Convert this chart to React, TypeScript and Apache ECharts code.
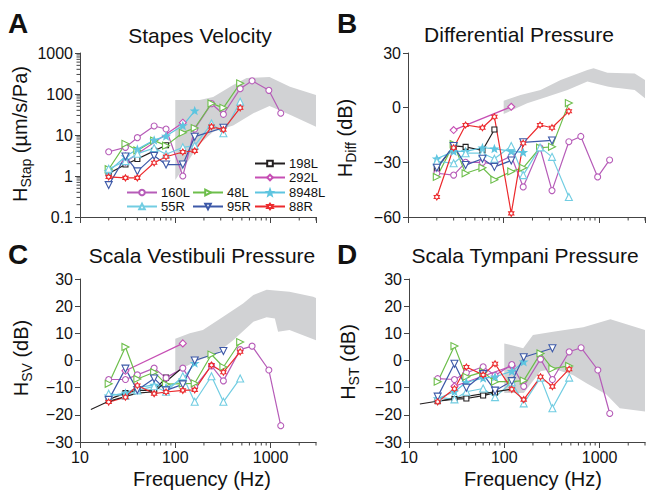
import React, { useEffect, useRef } from 'react';
import * as echarts from 'echarts';

// ---------- frequencies (Hz) per specimen ----------
const F_198L = [20, 30, 40, 60, 80];
const F_292L = [30, 120];
const F_160L = [20, 30, 40, 60, 80, 120, 160, 240, 320, 480, 640, 960, 1280];
const F_48L = [20, 30, 40, 60, 80, 120, 160, 240, 320, 480];
const F_8948L = [20, 30, 40, 60, 80, 120, 160];
const F_55R = [20, 30, 40, 60, 80, 120, 160, 240, 320, 480];
const F_95R = [20, 30, 40, 60, 80, 120, 160, 320];
const F_88R = [20, 30, 40, 60, 80, 120, 160, 240, 320, 480];

// ---------- A: Stapes velocity (um/s/Pa) ----------
const A_198L = [1.15, 1.9, 2.6, 4.1, 5.6];
const A_292L = [2.2, 20];
const A_160L = [3.9, 5.0, 8.6, 16.6, 14, 1.0, 14, 58, 32, 135, 210, 123, 34];
const A_48L = [1.46, 6.1, 4.2, 7.3, 5.5, 11.4, 14.8, 59, 46, 182];
const A_8948L = [1.3, 3.0, 4.5, 7.5, 9.4, 17, 39];
const A_55R = [1.5, 2.3, 3.5, 4.8, 3.4, 5, 5.5, 19, 11, 65];
const A_95R = [0.6, 3.0, 1.3, 3.1, 1.9, 1.9, 9.1, 15];
const A_88R = [0.95, 0.9, 0.9, 2.1, 2.95, 3.85, 4.1, 16, 13.5, 46];

// ---------- B: Differential pressure (dB) ----------
const B_198L = [-33.5, -21, -21.5, -23.5, -12];
const B_292L = [-12.3, 0.5];
const B_160L = [-36, -37, -30, -30, -31, -26.5, -43.5, -22, -45.5, -18.7, -15.8, -38, -28.7];
const B_48L = [-38, -20, -36, -33, -39.5, -35, -33, -22, -21.5, 2.5];
const B_8948L = [-28, -24, -24, -22, -22.5, -24, -24.5];
const B_55R = [-29.5, -30.5, -25, -25, -28, -21, -37, -21.8, -27, -49];
const B_95R = [-33, -21, -31.5, -28, -32.5, -29, -19, -18];
const B_88R = [-49, -22, -9.5, -11, -5, -58, -19.5, -9.5, -11, -2];

// ---------- C: Scala vestibuli pressure (dB) ----------
const C_198L = [-14.3, -12, -11, -11, -6.3];
const C_292L = [-3.8, 6.3];
const C_160L = [-7, -7, -5.3, -2.8, -6.4, -2.8, -9.8, -2, -7.5, 4, 5.3, -3.5, -24];
const C_48L = [-8.6, 5, -6.8, -4.3, -8.7, -8.5, -8.4, 2.2, -2.4, 6.8];
const C_8948L = [-13, -12, -10, -9, -10, -7, -1];
const C_55R = [-12.2, -13, -11, -9.5, -11.5, -5.8, -15.2, -5.8, -15.2, -6.6];
const C_95R = [-14.5, -3, -10.9, -6.6, -11, -8.8, 0, 3.5];
const C_88R = [-15.3, -13.5, -9.2, -12.2, -11.6, -11, -10.8, -1.7, -4.3, 3.2];
const C_FIT_F = [13, 20, 40, 60, 120];
const C_FIT_V = [-18, -15, -12, -11.5, -2.5];

// ---------- D: Scala tympani pressure (dB) ----------
const D_198L = [-15, -14.2, -14, -12.9, -11.8];
const D_292L = [-9.5, -2];
const D_160L = [-6.7, -7, -4.5, -2.3, -5.5, -1.5, -9.5, 0.5, -7, 3.2, 4.7, -3.5, -19.5];
const D_48L = [-7.8, 5.3, -6, -4.2, -7.8, -7.8, -7.4, 2.6, -3, -2];
const D_8948L = [-14, -11.5, -8, -6.5, -6, -4, -0.5];
const D_55R = [-13.5, -14.3, -11.5, -10.3, -13.5, -8, -15.8, -6.3, -17.6, -6.3];
const D_95R = [-13.3, -1.2, -10, -5, -11.1, -7.6, 1.2, 4.5];
const D_88R = [-15.2, -10.4, -2.4, -5.3, -1.2, -10.6, -14.4, -6, -9.6, -3.2];
const D_FIT_F = [13, 120];
const D_FIT_V = [-16, -10.5];

// ---------- gray reference bands (upper and lower edges) ----------
const A_BAND_UP_F = [100, 180, 250, 405, 560, 975, 1600, 3000];
const A_BAND_UP_V = [71, 71, 85, 165, 245, 260, 150, 95];
const A_BAND_LO_F = [100, 180, 250, 405, 660, 975, 1600, 3000];
const A_BAND_LO_V = [0.8, 6, 12, 17, 34, 51, 31, 16];
const B_BAND_UP_F = [100, 150, 243, 394, 750, 870, 1215, 2340, 3000];
const B_BAND_UP_V = [3.8, 6.9, 9.7, 15.2, 20.7, 21.6, 19.2, 18.8, 15.2];
const B_BAND_LO_F = [100, 176, 285, 465, 750, 1215, 1400, 1660, 2340, 3000];
const B_BAND_LO_V = [-3.5, 2.4, 6, 9.7, 14.3, 11.6, 11, 10.6, 9.7, 5.1];
const C_BAND_UP_F = [100, 142, 195, 318, 515, 660, 910, 1580, 2800, 3000];
const C_BAND_UP_V = [8, 10, 11.2, 16.1, 21, 24.1, 26, 25.3, 23.5, 23];
const C_BAND_LO_F = [100, 180, 270, 405, 660, 910, 1110, 1200, 1580, 3000];
const C_BAND_LO_V = [-4, 0.2, 2.6, 7.5, 14.3, 15.9, 15.5, 10.6, 11.2, 7.5];
const D_BAND_UP_F = [100, 158, 200, 325, 675, 1300, 3000];
const D_BAND_UP_V = [6.3, 4.5, 9.4, 10.6, 12.2, 15.2, 11.2];
const D_BAND_LO_F = [100, 160, 240, 330, 525, 730, 1180, 1630, 3000];
const D_BAND_LO_V = [-12, -12, -4, -3, -5.3, -8.4, -12.5, -17.6, -18.8];

// ---------- axis tick values ----------
const X_MINOR = [20, 30, 40, 50, 60, 70, 80, 90, 200, 300, 400, 500, 600, 700, 800, 900, 2000, 3000];
const Y_MINOR_A = [0.2, 0.3, 0.4, 0.5, 0.6, 0.7, 0.8, 0.9, 2, 3, 4, 5, 6, 7, 8, 9, 20, 30, 40, 50, 60, 70, 80, 90, 200, 300, 400, 500, 600, 700, 800, 900];

const TITLES = ['Stapes Velocity', 'Differential Pressure', 'Scala Vestibuli Pressure', 'Scala Tympani Pressure'];
const LETTERS = ['A', 'B', 'C', 'D'];
const NAMES = ['198L', '292L', '160L', '48L', '8948L', '55R', '95R', '88R'];

const FREQS: Record<string, number[]> = {
  '198L': F_198L, '292L': F_292L, '160L': F_160L, '48L': F_48L,
  '8948L': F_8948L, '55R': F_55R, '95R': F_95R, '88R': F_88R,
};
const PANEL_DATA: Record<string, number[]>[] = [
  { '198L': A_198L, '292L': A_292L, '160L': A_160L, '48L': A_48L, '8948L': A_8948L, '55R': A_55R, '95R': A_95R, '88R': A_88R },
  { '198L': B_198L, '292L': B_292L, '160L': B_160L, '48L': B_48L, '8948L': B_8948L, '55R': B_55R, '95R': B_95R, '88R': B_88R },
  { '198L': C_198L, '292L': C_292L, '160L': C_160L, '48L': C_48L, '8948L': C_8948L, '55R': C_55R, '95R': C_95R, '88R': C_88R },
  { '198L': D_198L, '292L': D_292L, '160L': D_160L, '48L': D_48L, '8948L': D_8948L, '55R': D_55R, '95R': D_95R, '88R': D_88R },
];
const BANDS = [
  [A_BAND_UP_F, A_BAND_UP_V, A_BAND_LO_F, A_BAND_LO_V],
  [B_BAND_UP_F, B_BAND_UP_V, B_BAND_LO_F, B_BAND_LO_V],
  [C_BAND_UP_F, C_BAND_UP_V, C_BAND_LO_F, C_BAND_LO_V],
  [D_BAND_UP_F, D_BAND_UP_V, D_BAND_LO_F, D_BAND_LO_V],
];
const FITS: Record<number, [number[], number[]]> = { 2: [C_FIT_F, C_FIT_V], 3: [D_FIT_F, D_FIT_V] };

// ---------- styling ----------
const FONT = 'Liberation Sans';
const AXIS = '#444';

function starPath(n: number, rOut: number, rIn: number) {
  const pts: string[] = [];
  for (let i = 0; i < n * 2; i++) {
    const r = i % 2 === 0 ? rOut : rIn;
    const a = -Math.PI / 2 + (i * Math.PI) / n;
    pts.push((r * Math.cos(a)).toFixed(2) + ',' + (r * Math.sin(a)).toFixed(2));
  }
  return 'path://M' + pts.join('L') + 'Z';
}
const STAR5 = starPath(5, 10, 4.2);
const HEX6 = starPath(6, 10, 5.8);

const STYLE: Record<string, { color: string; symbol: string; rotate: number; fill: string; size: number }> = {
  '198L': { color: '#231f20', symbol: 'rect', rotate: 0, fill: '#fff', size: 5 },
  '292L': { color: '#c64fb4', symbol: 'diamond', rotate: 0, fill: '#fff', size: 7 },
  '160L': { color: '#b65cb8', symbol: 'circle', rotate: 0, fill: '#fff', size: 6 },
  '48L': { color: '#6dbe4b', symbol: 'triangle', rotate: -90, fill: '#fff', size: 7 },
  '8948L': { color: '#5ec5e0', symbol: STAR5, rotate: 0, fill: '#5ec5e0', size: 7 },
  '55R': { color: '#72cde2', symbol: 'triangle', rotate: 0, fill: '#fff', size: 7 },
  '95R': { color: '#3d59a8', symbol: 'triangle', rotate: 180, fill: '#fff', size: 7 },
  '88R': { color: '#ec2a2d', symbol: HEX6, rotate: 0, fill: '#fff', size: 6 },
};

const GRIDS = [
  { left: 80, top: 53, width: 236, height: 164 },
  { left: 408, top: 53, width: 237, height: 164 },
  { left: 80, top: 279, width: 236, height: 163 },
  { left: 409, top: 279, width: 236, height: 163 },
];
const Y_AXES = [
  { type: 'log', min: 0.1, max: 1000 },
  { type: 'value', min: -60, max: 30, interval: 30 },
  { type: 'value', min: -30, max: 30, interval: 10 },
  { type: 'value', min: -30, max: 30, interval: 10 },
];

const LEGEND_POS: Record<string, [number, number]> = {
  '198L': [254, 164], '292L': [254, 178], '8948L': [254, 193], '88R': [254, 207],
  '160L': [126, 193], '55R': [126, 207], '48L': [192, 193], '95R': [192, 207],
};

const TITLE_POS: [number, number][] = [[200, 35], [519, 34], [202, 255], [525, 255]];
const LETTER_POS: [number, number][] = [[8, 23], [337, 23], [8, 254], [337, 254]];
const YNAME_POS: [number, number][] = [[21, 134], [346, 138], [22, 358], [349, 362]];
const YNAME_SUB = ['Stap', 'Diff', 'SV', 'ST'];
const YNAME_UNIT = [' (µm/s/Pa)', ' (dB)', ' (dB)', ' (dB)'];
const XNAME_POS: [number, number][] = [[202, 479], [533, 479]];

function isPow10(v: number) {
  const l = Math.log10(v);
  return Math.abs(l - Math.round(l)) < 1e-6;
}

function buildOption() {
  const series: any[] = [];
  const xAxis: any[] = [];
  const yAxis: any[] = [];

  GRIDS.forEach((_, p) => {
    xAxis.push({
      type: 'log', logBase: 10, gridIndex: p, min: 10, max: 3000,
      axisLine: { onZero: false, lineStyle: { color: AXIS, width: 1 } },
      axisTick: { length: 6, lineStyle: { color: AXIS } },
      splitLine: { show: false },
      axisLabel: {
        show: p >= 2, fontSize: 16, color: '#111', margin: 7, fontFamily: FONT,
        formatter: (v: number) => (isPow10(v) ? String(Math.round(v)) : ''),
        showMaxLabel: false,
      },
    });
    const ya = Y_AXES[p];
    yAxis.push({
      ...ya, gridIndex: p,
      axisLine: { show: true, onZero: false, lineStyle: { color: AXIS, width: 1 } },
      axisTick: { show: true, length: 5, lineStyle: { color: AXIS } },
      splitLine: { show: false },
      axisLabel: {
        fontSize: 16, color: '#111', margin: 7, fontFamily: FONT,
        formatter: (v: number) => String(Number(v.toPrecision(3))).replace('-', '\u2212'),
      },
    });

    // gray band
    const [uf, uv, lf, lv] = BANDS[p];
    series.push({
      type: 'custom', xAxisIndex: p, yAxisIndex: p, z: 1, silent: true,
      data: [[uf[0], uv[0]]],
      renderItem: (params: any, api: any) => {
        const pts: number[][] = [];
        uf.forEach((f, i) => pts.push(api.coord([f, uv[i]])));
        for (let i = lf.length - 1; i >= 0; i--) pts.push(api.coord([lf[i], lv[i]]));
        return { type: 'polygon', shape: { points: pts }, style: { fill: '#d1d2d4' } };
      },
    });

    // minor x ticks
    const yMin = ya.min;
    series.push({
      type: 'custom', xAxisIndex: p, yAxisIndex: p, z: 4, silent: true,
      data: X_MINOR.map((f) => [f, yMin]),
      renderItem: (params: any, api: any) => {
        const c = api.coord([api.value(0), api.value(1)]);
        return { type: 'line', shape: { x1: c[0], y1: c[1], x2: c[0], y2: c[1] + 3.5 }, style: { stroke: AXIS, lineWidth: 1 } };
      },
    });

    // specimen series
    NAMES.forEach((name) => {
      const st = STYLE[name];
      const vals = PANEL_DATA[p][name];
      series.push({
        type: 'line', name, xAxisIndex: p, yAxisIndex: p, z: 3,
        data: FREQS[name].map((f, i) => [f, vals[i]]),
        symbol: st.symbol, symbolSize: st.size, symbolRotate: st.rotate, symbolKeepAspect: true,
        showAllSymbol: true,
        color: st.color,
        lineStyle: { color: st.color, width: 1.2 },
        itemStyle: { color: st.fill, borderColor: st.color, borderWidth: 1.1 },
        emphasis: { disabled: true },
      });
    });

    if (FITS[p]) {
      const [ff, fv] = FITS[p];
      series.push({
        type: 'line', name: 'fit', xAxisIndex: p, yAxisIndex: p, z: 3,
        data: ff.map((f, i) => [f, fv[i]]), symbol: 'none',
        lineStyle: { color: '#231f20', width: 1.1 }, emphasis: { disabled: true },
      });
    }
  });

  // minor y ticks for log axis in A
  series.push({
    type: 'custom', xAxisIndex: 0, yAxisIndex: 0, z: 4, silent: true,
    data: Y_MINOR_A.map((v) => [10, v]),
    renderItem: (params: any, api: any) => {
      const c = api.coord([api.value(0), api.value(1)]);
      return { type: 'line', shape: { x1: c[0], y1: c[1], x2: c[0] - 3.5, y2: c[1] }, style: { stroke: AXIS, lineWidth: 1 } };
    },
  });

  const legend = NAMES.map((name) => ({
    data: [name], left: LEGEND_POS[name][0], top: LEGEND_POS[name][1] - 7,
    itemWidth: 30, itemHeight: 7, itemGap: 0, padding: 0, selectedMode: false,
    textStyle: { fontSize: 13, color: '#111', fontFamily: FONT, padding: [0, 0, 0, -1] },
  }));

  const graphic: any[] = [];
  TITLES.forEach((t, i) => {
    graphic.push({
      type: 'text', x: TITLE_POS[i][0], y: TITLE_POS[i][1],
      style: { text: t, fontSize: 21, fontFamily: FONT, fill: '#111', align: 'center', verticalAlign: 'middle' },
    });
    graphic.push({
      type: 'text', x: LETTER_POS[i][0], y: LETTER_POS[i][1],
      style: { text: LETTERS[i], fontSize: 28, fontWeight: 'bold', fontFamily: FONT, fill: '#111', align: 'left', verticalAlign: 'middle' },
    });
    graphic.push({
      type: 'text', x: YNAME_POS[i][0], y: YNAME_POS[i][1], rotation: Math.PI / 2,
      style: {
        text: '{h|H}{s|' + YNAME_SUB[i] + '}{h|' + YNAME_UNIT[i] + '}',
        align: 'center', verticalAlign: 'middle', fill: '#111',
        rich: {
          h: { fontSize: 20, fontFamily: FONT, lineHeight: 22, verticalAlign: 'top', fill: '#111' },
          s: { fontSize: 14, fontFamily: FONT, lineHeight: 14, padding: [9, 0, 0, 0], verticalAlign: 'top', fill: '#111' },
        },
      },
    });
  });
  XNAME_POS.forEach(([x, y]) => {
    graphic.push({
      type: 'text', x, y,
      style: { text: 'Frequency (Hz)', fontSize: 20, fontFamily: FONT, fill: '#111', align: 'center', verticalAlign: 'middle' },
    });
  });

  return {
    animation: false,
    backgroundColor: '#fff',
    textStyle: { fontFamily: FONT },
    grid: GRIDS.map((g) => ({ ...g, containLabel: false })),
    xAxis, yAxis, series, legend, graphic,
  };
}

export default function App() {
  const ref = useRef<HTMLDivElement>(null);
  useEffect(() => {
    const chart = echarts.init(ref.current!, null, { renderer: 'svg' });
    chart.setOption(buildOption() as any);
    return () => chart.dispose();
  }, []);
  return <div ref={ref} style={{ width: 654, height: 502, position: 'absolute', left: 0, top: 0 }} />;
}
